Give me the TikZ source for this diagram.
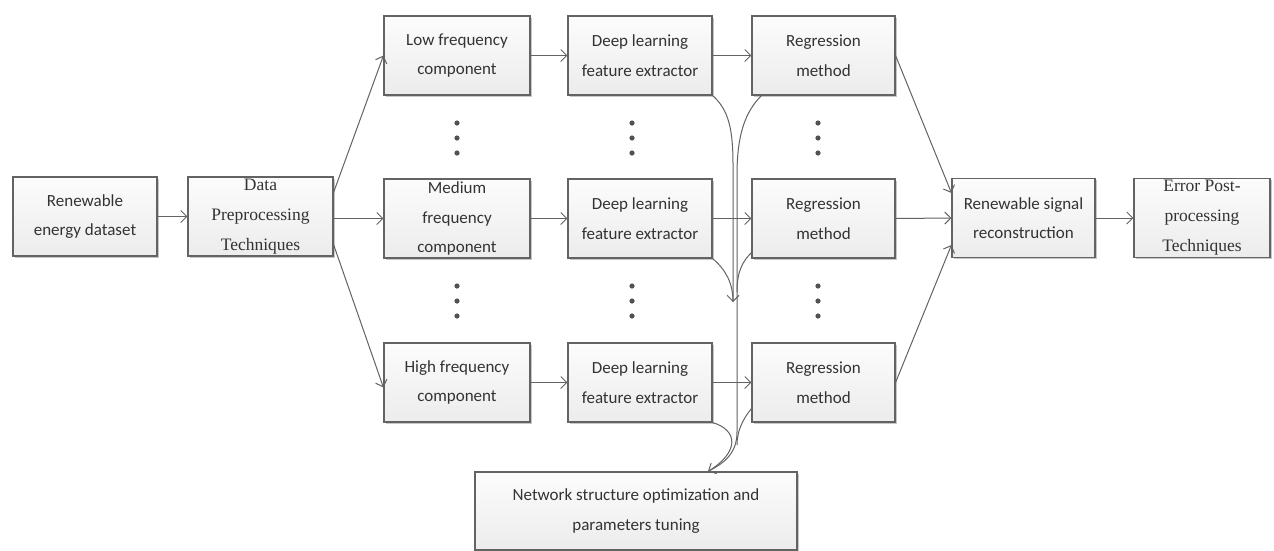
\documentclass[tikz,border=0pt]{standalone}
\usepackage{fontspec}
\setmainfont{Carlito}
\newfontfamily\serifface{Liberation Serif}
\usetikzlibrary{arrows.meta,shadows}

\definecolor{edge}{HTML}{636363}
\definecolor{ink}{HTML}{333333}
\definecolor{boxtop}{HTML}{FCFCFC}
\definecolor{boxbot}{HTML}{ECECEC}

\tikzset{
  blk/.style={draw=edge, line width=1.1pt, top color=boxtop, bottom color=boxbot,
    drop shadow={shadow xshift=1.8pt, shadow yshift=-1.8pt, opacity=0.22, fill=black},
    minimum width=#1, minimum height=79pt, inner sep=0pt},
  txt/.style={font=\fontsize{17}{29.5}\selectfont, text=ink, align=center, inner sep=0pt},
  stxt/.style={font=\serifface\fontsize{17.5}{30}\selectfont, text=ink, align=center, inner sep=0pt},
  arr/.style={draw=edge, line width=1pt, -{Straight Barb[length=6pt,width=12pt,line width=1pt]}},
  wire/.style={draw=edge, line width=1pt},
  dot/.style={fill=ink!85},
}

\begin{document}
\begin{tikzpicture}[x=1pt, y=-1pt]
\useasboundingbox[fill=white] (0,0) rectangle (1274,550);

% ---- boxes ----
\node[blk=144pt] (ds)    at (85,216.5)   {};
\node[blk=145pt] (pre)   at (260.5,216.5){};
\node[blk=146pt] (low)   at (457,55.5)   {};
\node[blk=146pt] (med)   at (457,218.5)  {};
\node[blk=146pt] (high)  at (457,382.5)  {};
\node[blk=144pt] (dl1)   at (640,55.5)   {};
\node[blk=144pt] (dl2)   at (640,218.5)  {};
\node[blk=144pt] (dl3)   at (640,382.5)  {};
\node[blk=143pt] (r1)    at (823.5,55.5) {};
\node[blk=143pt] (r2)    at (823.5,218.5){};
\node[blk=143pt] (r3)    at (823.5,382.5){};
\node[blk=143pt] (recon) at (1023.5,218) {};
\node[blk=136pt] (err)   at (1202,218)   {};
\node[blk=322pt, minimum height=78pt] (net) at (636,511) {};

% ---- box texts ----
\node[txt]  (tds)    at (ds)    {Renewable\\energy dataset};
\node[stxt] (tpre)   at (pre)   {Data\\Preprocessing\\Techniques};
\node[txt]  (tlow)   at (low)   {Low frequency\\component};
\node[txt]  (tmed)   at (med)   {Medium\\frequency\\component};
\node[txt]  (thigh)  at (high)  {High frequency\\component};
\node[txt]  (tdl1)   at (dl1)   {Deep learning\\feature extractor};
\node[txt]  (tdl2)   at (dl2)   {Deep learning\\feature extractor};
\node[txt]  (tdl3)   at (dl3)   {Deep learning\\feature extractor};
\node[txt]  (tr1)    at (r1)    {Regression\\method};
\node[txt]  (tr2)    at (r2)    {Regression\\method};
\node[txt]  (tr3)    at (r3)    {Regression\\method};
\node[txt]  (trecon) at (recon) {Renewable signal\\reconstruction};
\node[stxt] (terr)   at (err)   {Error Post-\\processing\\Techniques};
\node[txt]  (tnet)   at (net)   {Network structure optimization and\\parameters tuning};

% ---- vertical ellipses between rows ----
\foreach \x in {457,632,818}{
  \foreach \y in {123,138,153,286,301,316}{
    \fill[dot] (\x,\y) circle (2.6pt);
  }
}

% ---- straight connectors ----
\draw[arr] (ds.east) -- (pre.west);
\draw[arr] ([yshift=24pt]pre.east) -- (low.west);
\draw[arr] (pre.east |- med.west) -- (med.west);
\draw[arr] ([yshift=-28pt]pre.east) -- ([yshift=-5pt]high.west);
\draw[arr] (low.east) -- (dl1.west);
\draw[arr] (med.east) -- (dl2.west);
\draw[arr] (high.east) -- (dl3.west);
\draw[arr] (dl1.east) -- (r1.west);
\draw[arr] (dl2.east) -- (r2.west);
\draw[arr] (dl3.east) -- (r3.west);
\draw[arr] (r1.east) -- ([yshift=25pt]recon.west);
\draw[arr] (r2.east) -- (recon.west);
\draw[arr] (r3.east) -- ([yshift=-27pt]recon.west);
\draw[arr] (recon.east) -- (err.west);

% ---- feedback curves to the tuning block ----
\coordinate (merge) at (733,302);
\coordinate (tune)  at ([xshift=72pt]net.north);
\draw[arr] (dl1.south east) .. controls (729,110) and (733,130) .. (733,165) -- (merge);
\draw[wire] (dl2.south east) .. controls (726,270) and (733,283) .. (merge);
\draw[arr] ([xshift=10pt]r1.south west) .. controls (745,112) and (737,135) .. (737,175)
  -- (737,432) .. controls (737,455) and (722,464) .. (tune);
\draw[wire] ([yshift=6pt]r2.south west) .. controls (742,262) and (737,272) .. (737,292);
\draw[wire] (dl3.south east) .. controls (738,430) and (740,452) .. (tune);
\draw[wire] ([yshift=14pt]r3.south west) .. controls (742,420) and (737,432) .. (737,445);
\end{tikzpicture}
\end{document}
